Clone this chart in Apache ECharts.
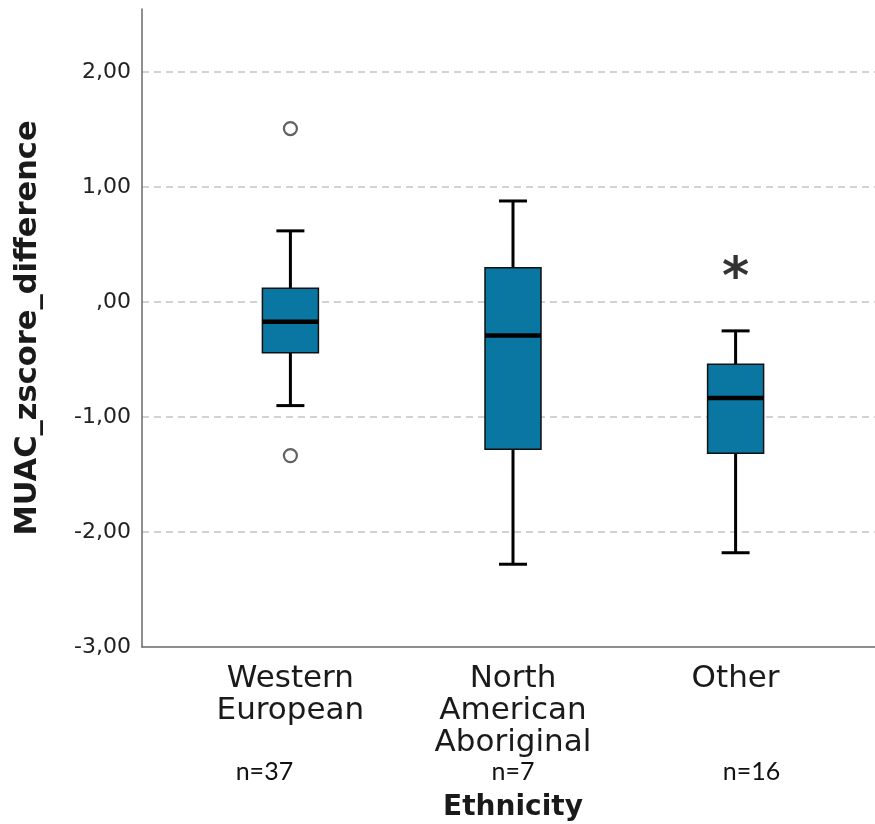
<!DOCTYPE html>
<html>
<head>
<meta charset="utf-8">
<script src="https://cdn.jsdelivr.net/npm/echarts@6/dist/echarts.min.js"></script>
<style>
  html, body { margin: 0; padding: 0; background: #ffffff; }
  #chart { width: 875px; height: 824px; }
</style>
</head>
<body>
<div id="chart"></div>
<script>
// MUAC z-score difference by ethnicity: box plot summary per group
const ethnicities  = ['Western European', 'North American Aboriginal', 'Other'];
const sampleSizes  = [37, 7, 16];
const whiskerLow   = [-0.90, -2.28, -2.18];
const quartile1    = [-0.44, -1.28, -1.315];
const medians      = [-0.17, -0.29, -0.835];
const quartile3    = [0.12, 0.30, -0.54];
const whiskerHigh  = [0.62, 0.88, -0.25];
// outliers: [group index, value]
const outliers     = [[0, 1.51], [0, -1.335]];
// significance markers: [group index, value where the marker sits, text]
const significance = [[2, 0.29, '*']];
const yTickValues  = [-3, -2, -1, 0, 1, 2];
const yMin = -3, yMax = 2.55, yStep = 1;

// Each group sits on every third slot of a wider category axis
const SLOT_COUNT = 11;
const slotOf = i => 2 + 3 * i;
const axisSlots = Array.from({ length: SLOT_COUNT }, (_, s) => {
  const g = ethnicities.findIndex((_, i) => slotOf(i) === s);
  return g >= 0 ? ethnicities[g] : '\u200b' + s;
});

// horizontal nudges (px) for the sample size captions
const nShift = [-26, 0, 16];

const boxData = ethnicities.map((_, i) => [
  slotOf(i), whiskerLow[i], quartile1[i], medians[i], quartile3[i], whiskerHigh[i]
]);
const outlierData = outliers.map(([g, v]) => [slotOf(g), v]);
const sigData = significance.map(([g, v, t]) => ({ value: [slotOf(g), v], mark: t }));

const fmtTick = v => {
  if (yTickValues.indexOf(v) < 0) return '';
  if (v === 0) return ',00';
  return v.toFixed(2).replace('.', ',');
};

const richStyles = {
  c: { fontFamily: 'DejaVu Sans', fontSize: 31, lineHeight: 32, color: '#1a1a1a' },
  n: { fontFamily: 'Lato', fontSize: 25, lineHeight: 26, color: '#111111' }
};
ethnicities.forEach((_, i) => {
  const s = nShift[i];
  richStyles['n' + i] = Object.assign({}, richStyles.n, {
    padding: s < 0 ? [0, -2 * s, 0, 0] : [0, 0, 0, 2 * s]
  });
});

const chart = echarts.init(document.getElementById('chart'), null, { renderer: 'canvas' });

chart.setOption({
  backgroundColor: '#ffffff',
  animation: false,
  grid: { left: 142, width: 742, top: 9, bottom: 177, containLabel: false, outerBoundsMode: 'none' },
  xAxis: {
    type: 'category',
    data: axisSlots,
    boundaryGap: false,
    name: 'Ethnicity',
    nameLocation: 'middle',
    nameGap: 147,
    nameTextStyle: { fontFamily: 'DejaVu Sans', fontWeight: 'bold', fontSize: 28, color: '#1a1a1a' },
    axisLine: { show: true, onZero: false, lineStyle: { color: '#6a6a6a', width: 1.5 } },
    axisTick: { show: false },
    splitLine: { show: false },
    axisLabel: {
      interval: 0,
      margin: 16,
      formatter: (value) => {
        const g = ethnicities.indexOf(value);
        if (g < 0) return '';
        const words = value.split(' ');
        const lines = words.map(w => '{c|' + w + '}');
        while (lines.length < 3) lines.push('{c|\u00a0}');
        lines.push('{n' + g + '|n=' + sampleSizes[g] + '}');
        return lines.join('\n');
      },
      rich: richStyles
    }
  },
  yAxis: {
    type: 'value',
    min: yMin,
    max: yMax,
    interval: yStep,
    name: 'MUAC_zscore_difference',
    nameLocation: 'middle',
    nameGap: 98,
    nameTextStyle: { fontFamily: 'DejaVu Sans', fontWeight: 'bold', fontSize: 30.5, color: '#1a1a1a' },
    axisLine: { show: true, onZero: false, lineStyle: { color: '#6a6a6a', width: 1.5 } },
    axisTick: { show: false },
    axisLabel: {
      margin: 11,
      showMaxLabel: false,
      fontFamily: 'DejaVu Sans',
      fontSize: 22,
      color: '#222222',
      formatter: fmtTick
    },
    splitLine: {
      show: true,
      showMinLine: false,
      showMaxLine: false,
      lineStyle: { color: '#c4c4c4', width: 1.5, type: [7, 5] }
    }
  },
  series: [
    {
      type: 'custom',
      name: 'boxes',
      data: boxData,
      encode: { x: 0, y: [1, 2, 3, 4, 5] },
      renderItem: (params, api) => {
        const x = api.value(0);
        const pLow = api.coord([x, api.value(1)]);
        const pQ1 = api.coord([x, api.value(2)]);
        const pMed = api.coord([x, api.value(3)]);
        const pQ3 = api.coord([x, api.value(4)]);
        const pHigh = api.coord([x, api.value(5)]);
        const cx = pMed[0];
        const bw = 56, cw = 28;
        const whisker = { stroke: '#000000', lineWidth: 3 };
        return {
          type: 'group',
          children: [
            { type: 'line', shape: { x1: cx, y1: pHigh[1], x2: cx, y2: pQ3[1] }, style: whisker },
            { type: 'line', shape: { x1: cx, y1: pQ1[1], x2: cx, y2: pLow[1] }, style: whisker },
            { type: 'line', shape: { x1: cx - cw / 2, y1: pHigh[1], x2: cx + cw / 2, y2: pHigh[1] }, style: whisker },
            { type: 'line', shape: { x1: cx - cw / 2, y1: pLow[1], x2: cx + cw / 2, y2: pLow[1] }, style: whisker },
            {
              type: 'rect',
              shape: { x: cx - bw / 2, y: pQ3[1], width: bw, height: pQ1[1] - pQ3[1] },
              style: { fill: '#0a77a3', stroke: '#111111', lineWidth: 1.5 }
            },
            {
              type: 'line',
              shape: { x1: cx - bw / 2, y1: pMed[1], x2: cx + bw / 2, y2: pMed[1] },
              style: { stroke: '#000000', lineWidth: 4.5 }
            }
          ]
        };
      },
      z: 3
    },
    {
      type: 'scatter',
      name: 'outliers',
      data: outlierData,
      symbol: 'circle',
      symbolSize: 13,
      itemStyle: { color: '#ffffff', borderColor: '#3a3a3a', borderWidth: 2.2 },
      z: 4
    },
    {
      type: 'scatter',
      name: 'significance',
      data: sigData,
      symbolSize: 0,
      label: {
        show: true,
        position: 'inside',
        formatter: p => p.data.mark,
        fontFamily: 'DejaVu Sans',
        fontWeight: 'bold',
        fontSize: 52,
        color: '#000000',
        offset: [0, 11]
      },
      z: 5
    }
  ]
});
</script>
</body>
</html>
